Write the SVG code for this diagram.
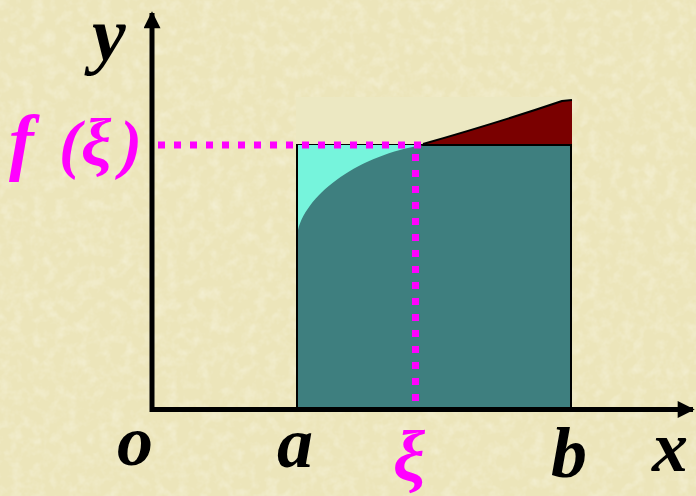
<svg xmlns="http://www.w3.org/2000/svg" width="696" height="496" viewBox="0 0 696 496">
<style>
.lbl{font-family:"Liberation Serif","Times New Roman",serif;font-weight:bold;font-style:italic;fill:#000}
.mag{fill:#ff00ff}
.dot{stroke:#ff00ff;stroke-width:7;stroke-dasharray:7 9;fill:none}
.axis{stroke:#000;stroke-width:5;fill:none}
</style>
<defs>
<filter id="tex" x="0" y="0" width="100%" height="100%">
<feTurbulence type="fractalNoise" baseFrequency="0.09" numOctaves="3" seed="4"/>
<feColorMatrix type="matrix" values="0 0 0 0 1 0 0 0 0 1 0 0 0 0 0.95 0.7 0 0 0 -0.3"/>
</filter>
<marker id="arr" viewBox="0 0 10 10" refX="9" refY="5" markerWidth="3.6" markerHeight="3.4" orient="auto" markerUnits="strokeWidth">
<path d="M0,0 L10,5 L0,10 Z" fill="#000"/>
</marker>
</defs>
<rect x="0" y="0" width="696" height="496" fill="#ece5ba"/>
<rect x="0" y="0" width="696" height="496" filter="url(#tex)"/>

<g id="pale-band">
<rect x="296" y="97" width="276" height="48" fill="#ece8c2"/>
</g>
<g id="upper-excess">
<path d="M423,144 Q500,122 562,101 L572,100 L572,144 Z" fill="#7a0000"/>
<path d="M423,144 Q500,122 562,101 L572,100" fill="none" stroke="#000" stroke-width="2"/>
</g>
<g id="rectangle">
<rect x="297" y="145" width="274" height="263" fill="#3e7f7f" stroke="#000" stroke-width="2"/>
</g>
<g id="lower-gap">
<path d="M298,230 C308,192 360,155 423,145 L298,145 Z" fill="#76f4dc"/>
</g>

<g id="connectors">
<line class="axis" x1="152" y1="412" x2="152" y2="13" marker-end="url(#arr)"/>
<line class="axis" x1="150" y1="409.5" x2="693" y2="409.5" marker-end="url(#arr)"/>
<line class="dot" x1="158" y1="145" x2="424" y2="145"/>
<line class="dot" x1="415.5" y1="154" x2="415.5" y2="402"/>
</g>

<g id="labels">
<text class="lbl" x="92" y="60" font-size="76">y</text>
<text class="lbl mag" x="9" y="166" font-size="74">f</text>
<text class="lbl mag" x="59" y="166" font-size="66" font-style="normal">(</text>
<text class="lbl mag" x="81" y="166" font-size="68" font-weight="normal">ξ</text>
<text class="lbl mag" x="120" y="166" font-size="66" font-style="normal">)</text>
<text class="lbl" x="117" y="465" font-size="72">o</text>
<text class="lbl" x="277" y="467" font-size="72">a</text>
<text class="lbl mag" x="393" y="481" font-size="72" font-weight="normal">ξ</text>
<text class="lbl" x="551" y="477" font-size="72">b</text>
<text class="lbl" x="652" y="471" font-size="72">x</text>
</g>
</svg>
